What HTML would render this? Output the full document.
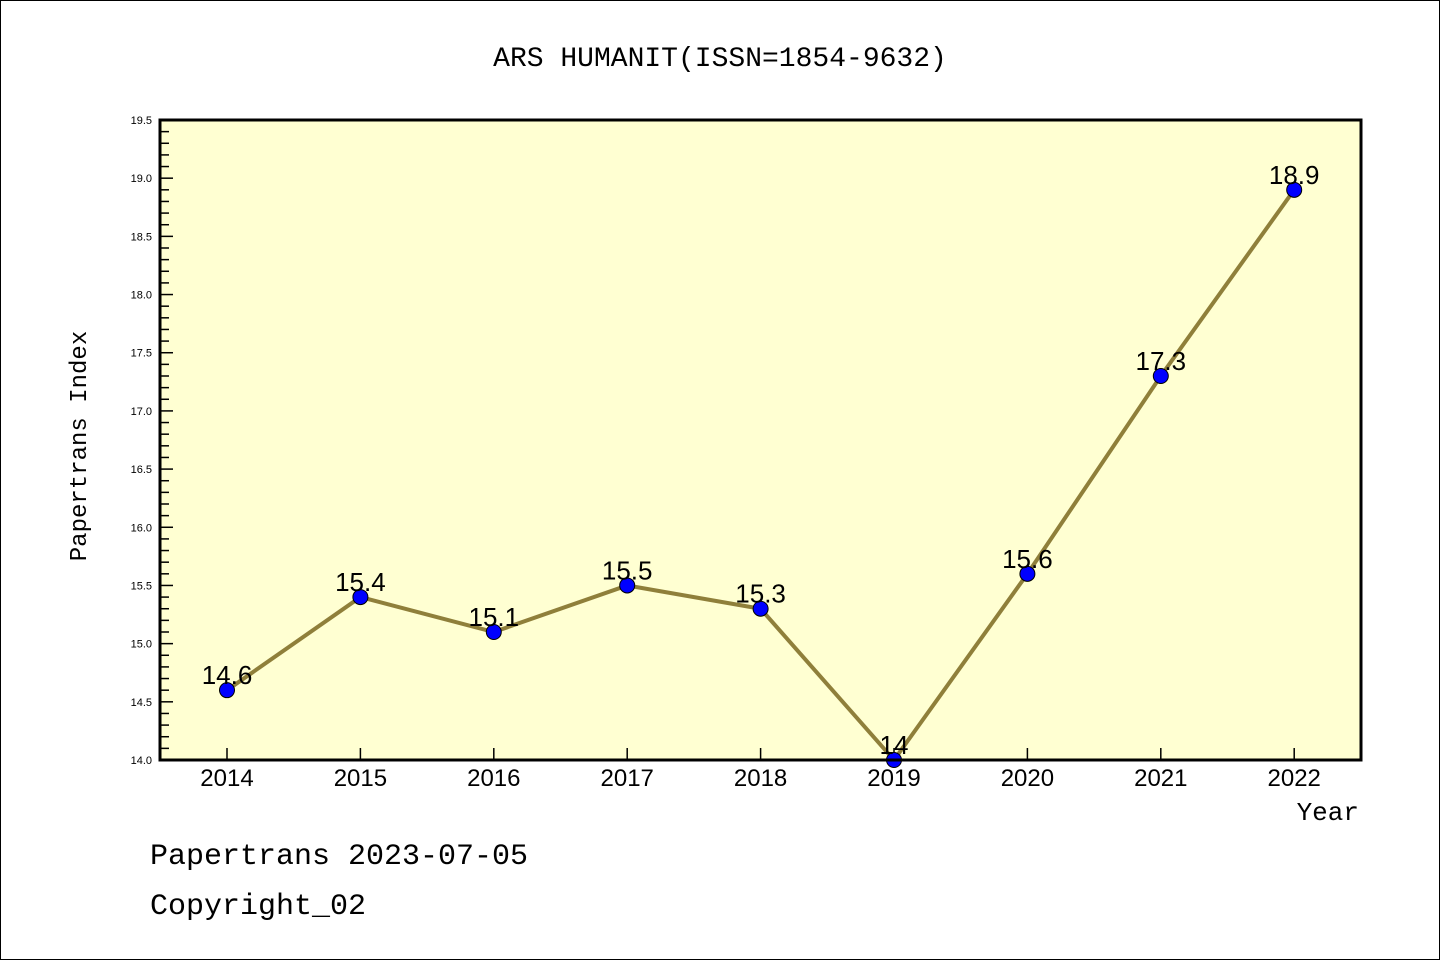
<!DOCTYPE html>
<html><head><meta charset="utf-8"><style>
body{margin:0;background:#fff}
svg{display:block;font-family:"Liberation Sans","DejaVu Sans",sans-serif}
</style></head><body>
<svg id="chart" width="1440" height="960" viewBox="0 0 1440 960">
<rect x="0.5" y="0.5" width="1439" height="959" fill="#fff" stroke="#000"/>
<text x="720" y="66" font-size="28" text-anchor="middle" font-family="Liberation Mono, monospace">ARS HUMANIT(ISSN=1854-9632)</text>
<rect x="160" y="120" width="1201" height="640" fill="#ffffd2"/>
<g id="axes"></g>
<g id="marks"></g>
<rect x="160" y="120" width="1201" height="640" fill="none" stroke="#000" stroke-width="3"/>
<text x="86" y="446" font-size="24" text-anchor="middle" transform="rotate(-90 86 446)" font-family="Liberation Mono, monospace">Papertrans Index</text>
<text x="1359" y="820" font-size="26" text-anchor="end" font-family="Liberation Mono, monospace">Year</text>
<text x="150" y="864" font-size="30" font-family="Liberation Mono, monospace">Papertrans 2023-07-05</text>
<text x="150" y="914" font-size="30" font-family="Liberation Mono, monospace">Copyright_02</text>
</svg>
<script>
const years = ["2014","2015","2016","2017","2018","2019","2020","2021","2022"];
const values = [14.6,15.4,15.1,15.5,15.3,14.0,15.6,17.3,18.9];
const valueLabels = ["14.6","15.4","15.1","15.5","15.3","14","15.6","17.3","18.9"];
const yTicks = [14.0,14.5,15.0,15.5,16.0,16.5,17.0,17.5,18.0,18.5,19.0,19.5];
const NS="http://www.w3.org/2000/svg";
const x0=227,dx=133.4,yMin=14,yMax=19.5,plotTop=120,plotBot=760;
const xs=i=>x0+i*dx;
const ys=v=>plotBot-(v-yMin)/(yMax-yMin)*(plotBot-plotTop);
function mk(t,a,p){const e=document.createElementNS(NS,t);for(const k in a)e.setAttribute(k,a[k]);p.appendChild(e);return e;}
const axes=document.getElementById('axes'),marks=document.getElementById('marks');
for(let k=0;k<=55;k++){
  const v=yMin+k*0.1;
  const major=k%5===0;
  const t=mk('line',{x1:160,x2:160+(major?13:9),y1:ys(v),y2:ys(v),stroke:'#000','stroke-width':1.5},axes);
  
  
}
yTicks.forEach(v=>{
  const t=mk('text',{x:152,y:ys(v)+4,'font-size':11,'text-anchor':'end'},axes);
  t.textContent=v.toFixed(1);
  
  
});
years.forEach((y,i)=>{
  const l=mk('line',{x1:xs(i),x2:xs(i),y1:plotBot,y2:plotBot-12,stroke:'#000','stroke-width':1.5},axes);
  
  
  const t=mk('text',{x:xs(i),y:786,'font-size':24,'text-anchor':'middle'},axes);
  t.textContent=y;
  
  
});
const pl=mk('polyline',{points:values.map((v,i)=>xs(i)+','+ys(v)).join(' '),fill:'none',stroke:'#8f7f3a','stroke-width':4},marks);


values.forEach((v,i)=>{
  const c=mk('circle',{cx:xs(i),cy:ys(v),r:7.5,fill:'#0000ff',stroke:'#000','stroke-width':1},marks);
  
  
  const t=mk('text',{x:xs(i),y:ys(v)-6,'font-size':26,'text-anchor':'middle'},marks);
  t.textContent=valueLabels[i];
  
  
});
</script>
</body></html>
